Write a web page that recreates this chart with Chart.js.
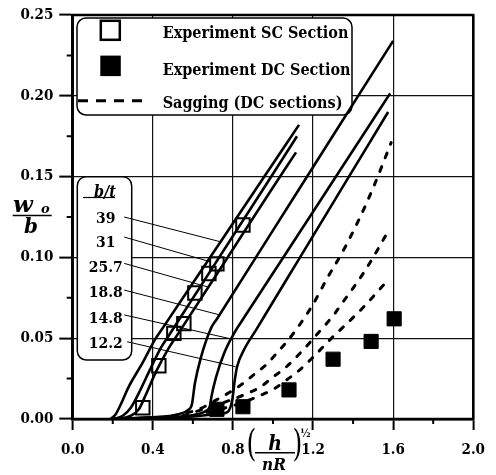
<!DOCTYPE html>
<html><head><meta charset="utf-8">
<script src="https://cdn.jsdelivr.net/npm/chart.js@4/dist/chart.umd.min.js"></script>
<style>html,body{margin:0;padding:0;background:#fff;}canvas{display:block;}</style>
</head><body>
<canvas id="c" width="496" height="475"></canvas>
<script>
// ---- data (x = (h/nR)^1/2, y = w0/b) ----
const btLabels = ['39', '31', '25.7', '18.8', '14.8', '12.2'];
const curve39   = [[0.19,0.000],[0.215,0.003],[0.24,0.009],[0.28,0.020],[0.35,0.035],[0.41,0.049],[0.45,0.0564],[0.60,0.0841],[0.90,0.1395],[1.13,0.182]];
const curve31   = [[0.21,0.000],[0.25,0.002],[0.29,0.007],[0.33,0.016],[0.38,0.029],[0.44,0.044],[0.48,0.0517],[0.70,0.094],[0.95,0.142],[1.12,0.175]];
const curve25_7 = [[0.23,0.000],[0.29,0.002],[0.33,0.006],[0.365,0.015],[0.415,0.029],[0.48,0.044],[0.52,0.0516],[0.75,0.0955],[0.98,0.1395],[1.115,0.165]];
const curve18_8 = [[0.19,0.000],[0.38,0.001],[0.53,0.003],[0.575,0.0055],[0.595,0.009],[0.61,0.022],[0.64,0.038],[0.69,0.056],[0.72,0.0619],[1.00,0.1167],[1.30,0.1754],[1.60,0.234]];
const curve14_8 = [[0.19,0.000],[0.43,0.001],[0.625,0.003],[0.665,0.005],[0.685,0.008],[0.693,0.014],[0.716,0.026],[0.757,0.041],[0.815,0.055],[0.85,0.0617],[1.07,0.1035],[1.33,0.153],[1.585,0.2015]];
const curve12_2 = [[0.19,0.000],[0.53,0.001],[0.725,0.003],[0.775,0.0045],[0.797,0.012],[0.807,0.022],[0.82,0.032],[0.856,0.043],[0.915,0.055],[0.95,0.0622],[1.135,0.100],[1.355,0.145],[1.575,0.190]];
const saggingA = [[0.50,0.002],[0.63,0.006],[0.72,0.012],[0.79,0.017],[0.85,0.022],[0.91,0.028],[0.97,0.034],[1.02,0.041],[1.07,0.048],[1.12,0.056],[1.20,0.071],[1.27,0.087],[1.35,0.104],[1.42,0.121],[1.50,0.143],[1.59,0.171]];
const saggingB = [[0.55,0.002],[0.75,0.010],[0.875,0.016],[0.94,0.020],[1.00,0.026],[1.055,0.031],[1.11,0.0375],[1.16,0.044],[1.21,0.051],[1.26,0.058],[1.31,0.0655],[1.35,0.0725],[1.40,0.081],[1.45,0.090],[1.50,0.100],[1.565,0.114]];
const saggingC = [[0.60,0.002],[0.82,0.009],[0.945,0.015],[1.01,0.019],[1.06,0.0235],[1.12,0.029],[1.19,0.037],[1.30,0.051],[1.36,0.058],[1.45,0.069],[1.56,0.084]];
const expSCx = [0.35, 0.43, 0.505, 0.555, 0.61, 0.68, 0.72, 0.85];
const expSCy = [0.007, 0.033, 0.053, 0.059, 0.078, 0.090, 0.096, 0.120];
const expDCx = [0.72, 0.85, 1.08, 1.30, 1.49, 1.605];
const expDCy = [0.006, 0.0076, 0.018, 0.037, 0.048, 0.062];
// leader lines from b/t labels to the curves
const leaders = [
  [[0.257,0.1250],[0.734,0.1098]],
  [[0.257,0.1126],[0.690,0.0972]],
  [[0.257,0.0963],[0.675,0.0817]],
  [[0.257,0.0798],[0.734,0.0644]],
  [[0.257,0.0644],[0.779,0.0499]],
  [[0.272,0.0478],[0.813,0.0324]]
];
const xMinorTicks = [0.2, 0.6, 1.0, 1.4, 1.8];
const yMinorTicks = [0.025, 0.075, 0.125, 0.175, 0.225];
const legendTexts = ['Experiment SC Section', 'Experiment DC Section', 'Sagging (DC sections)'];

// ---- build ----
const FAM = "'DejaVu Serif Condensed','DejaVu Serif',serif";
const FAM2 = "'DejaVu Serif',serif";
const pts = a => a.map(p => ({x: p[0], y: p[1]}));
const zip = (xs, ys) => xs.map((x, i) => ({x, y: ys[i]}));

const datasets = [];
datasets.push({data: zip(expDCx, expDCy), pointStyle: 'rect', pointRadius: 10, backgroundColor: '#000', borderColor: '#000', borderWidth: 1, showLine: false});
datasets.push({data: zip(expSCx, expSCy), pointStyle: 'rect', pointRadius: 9.5, backgroundColor: 'rgba(0,0,0,0)', borderColor: '#000', borderWidth: 2, showLine: false});
[curve39, curve31, curve25_7, curve18_8, curve14_8, curve12_2].forEach(c => datasets.push({
  data: pts(c), showLine: true, borderColor: '#000', borderWidth: 2.6, pointRadius: 0, cubicInterpolationMode: 'monotone', fill: false
}));
[saggingA, saggingB, saggingC].forEach(c => datasets.push({
  data: pts(c), showLine: true, borderColor: '#000', borderWidth: 3, borderDash: [5, 9.5], borderCapStyle: 'round', pointRadius: 0, cubicInterpolationMode: 'monotone', fill: false
}));
leaders.forEach(c => datasets.push({data: pts(c), showLine: true, borderColor: '#000', borderWidth: 1, pointRadius: 0, fill: false}));

function rr(ctx, x, y, w, h, r) {
  ctx.beginPath();
  ctx.moveTo(x + r, y);
  ctx.arcTo(x + w, y, x + w, y + h, r);
  ctx.arcTo(x + w, y + h, x, y + h, r);
  ctx.arcTo(x, y + h, x, y, r);
  ctx.arcTo(x, y, x + w, y, r);
  ctx.closePath();
}

const deco = {
  id: 'deco',
  beforeDatasetsDraw(chart) {
    const {ctx, chartArea: a} = chart;
    const L = a.left, T = a.top;
    ctx.save();
    rr(ctx, L + 4.3, T + 3, 275, 97, 9);
    ctx.fillStyle = '#fff'; ctx.fill();
    ctx.lineWidth = 1.5; ctx.strokeStyle = '#000'; ctx.stroke();
    rr(ctx, L + 4.6, T + 161.7, 54.4, 183.3, 9);
    ctx.fill(); ctx.stroke();
    ctx.lineWidth = 2.5;
    ctx.strokeRect(L + 28.1, T + 5.8, 19, 19);
    ctx.fillStyle = '#000';
    ctx.fillRect(L + 27.6, T + 40.6, 20.5, 20.5);
    ctx.setLineDash([10, 8]); ctx.lineWidth = 3;
    ctx.beginPath(); ctx.moveTo(L + 5.3, T + 85.7); ctx.lineTo(L + 70.3, T + 85.7); ctx.stroke();
    ctx.setLineDash([]);
    ctx.font = 'bold 16px ' + FAM;
    ctx.textAlign = 'left'; ctx.textBaseline = 'alphabetic';
    const by = [23, 60, 93];
    legendTexts.forEach((t, i) => ctx.fillText(t, L + 90, T + by[i]));
    ctx.font = 'italic bold 16px ' + FAM;
    ctx.textAlign = 'center';
    ctx.fillText('b/t', L + 32.3, T + 182);
    ctx.lineWidth = 1.2;
    ctx.beginPath(); ctx.moveTo(L + 10.3, T + 182.5); ctx.lineTo(L + 42.3, T + 182.5); ctx.stroke();
    ctx.font = 'bold 15.5px ' + FAM;
    const ly = [208, 231.7, 256.7, 281.7, 308.3, 333.3];
    btLabels.forEach((t, i) => ctx.fillText(t, L + 33, T + ly[i]));
    ctx.restore();
  },
  afterDatasetsDraw(chart) {
    const {ctx, chartArea: a, scales: {x, y}} = chart;
    ctx.save();
    ctx.strokeStyle = '#000'; ctx.lineWidth = 2.5;
    ctx.strokeRect(a.left, a.top, a.right - a.left, a.bottom - a.top);
    ctx.lineWidth = 2;
    ctx.beginPath();
    xMinorTicks.forEach(v => { const px = x.getPixelForValue(v); ctx.moveTo(px, a.bottom); ctx.lineTo(px, a.bottom + 5); });
    yMinorTicks.forEach(v => { const py = y.getPixelForValue(v); ctx.moveTo(a.left - 6, py); ctx.lineTo(a.left, py); });
    ctx.stroke();
    ctx.restore();
  },
  afterDraw(chart) {
    const {ctx} = chart;
    ctx.save();
    ctx.fillStyle = '#000'; ctx.strokeStyle = '#000';
    ctx.textBaseline = 'alphabetic';
    // y title: w_o / b
    ctx.textAlign = 'left';
    ctx.font = 'italic bold 23px ' + FAM2;
    ctx.fillText('w', 13, 212);
    ctx.font = 'italic bold 13px ' + FAM2;
    ctx.fillText('o', 41, 213);
    ctx.lineWidth = 1.6;
    ctx.beginPath(); ctx.moveTo(12.7, 215.5); ctx.lineTo(51.7, 215.5); ctx.stroke();
    ctx.textAlign = 'center';
    ctx.font = 'italic bold 20px ' + FAM2;
    ctx.fillText('b', 31, 233);
    // x title: (h / nR)^1/2
    ctx.save();
    ctx.font = '28px ' + FAM;
    ctx.translate(251.5, 446.5); ctx.scale(1, 1.3);
    ctx.textBaseline = 'middle';
    ctx.fillText('(', 0, 0);
    ctx.restore();
    ctx.save();
    ctx.font = '28px ' + FAM;
    ctx.translate(297.5, 446.5); ctx.scale(1, 1.3);
    ctx.textBaseline = 'middle';
    ctx.fillText(')', 0, 0);
    ctx.restore();
    ctx.font = 'italic bold 21px ' + FAM;
    ctx.fillText('h', 275, 450);
    ctx.lineWidth = 1.5;
    ctx.beginPath(); ctx.moveTo(255, 452.7); ctx.lineTo(295, 452.7); ctx.stroke();
    ctx.font = 'italic bold 17px ' + FAM;
    ctx.fillText('nR', 274, 470);
    ctx.font = 'bold 11px ' + FAM;
    ctx.fillText('\u00bd', 305.5, 437);
    ctx.restore();
  }
};

Chart.defaults.font.family = FAM;
Chart.defaults.font.weight = 'bold';
Chart.defaults.font.size = 15;
Chart.defaults.color = '#000';

new Chart(document.getElementById('c'), {
  type: 'scatter',
  data: {datasets},
  options: {
    responsive: false, animation: false, devicePixelRatio: 1,
    layout: {padding: {top: 15, right: 16.7, left: 0, bottom: 0}},
    plugins: {legend: {display: false}, tooltip: {enabled: false}},
    elements: {line: {tension: 0}},
    scales: {
      x: {
        type: 'linear', min: 0, max: 2.0,
        afterFit(s) { s.height = 56; },
        ticks: {stepSize: 0.4, callback: v => Number(v).toFixed(1), padding: 11, maxRotation: 0, autoSkip: false, font: {size: 15, weight: 'bold', family: FAM}, color: '#000'},
        grid: {color: '#111', lineWidth: 1.2, tickLength: 11, tickWidth: 2, tickColor: '#000'},
        border: {display: true, width: 2.5, color: '#000'}
      },
      y: {
        type: 'linear', min: 0, max: 0.25,
        afterFit(s) { s.width = 72.7; },
        ticks: {stepSize: 0.05, callback: v => Number(v).toFixed(2), padding: 6, font: {size: 15, weight: 'bold', family: FAM}, color: '#000'},
        grid: {color: '#111', lineWidth: 1.2, tickLength: 13.4, tickWidth: 2, tickColor: '#000'},
        border: {display: true, width: 2.5, color: '#000'}
      }
    }
  },
  plugins: [deco]
});
</script>
</body></html>
